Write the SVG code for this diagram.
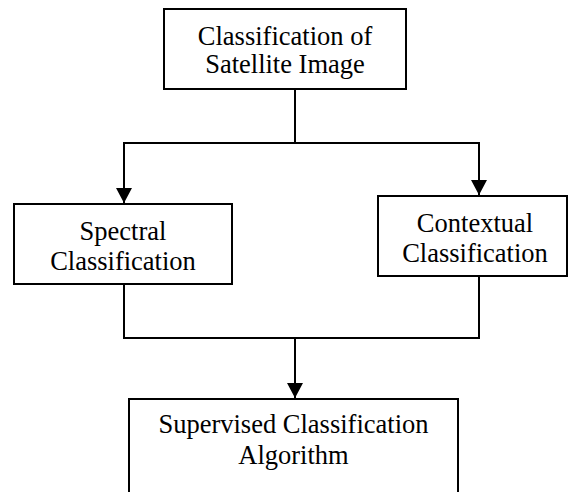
<svg xmlns="http://www.w3.org/2000/svg" width="569" height="492" viewBox="0 0 569 492">
<style>
.box{fill:#fff;stroke:#000;stroke-width:2}
.t{font-family:"Liberation Serif","Times New Roman",serif;font-size:26.5px;fill:#000;text-anchor:middle}
.c{fill:none;stroke:#000;stroke-width:2}
</style>
<defs>
<marker id="ah" markerWidth="16" markerHeight="15" refX="8" refY="15" orient="0" markerUnits="userSpaceOnUse">
<path d="M0,0 L16,0 L8,15 Z" fill="#000"/>
</marker>
</defs>
<rect width="569" height="492" fill="#fff"/>
<g id="connectors">
<polyline class="c" points="295,89 295,143 124,143 124,188"/>
<line class="c" x1="124" y1="143" x2="124" y2="203" marker-end="url(#ah)"/>
<polyline class="c" points="295,143 479,143 479,195" marker-end="url(#ah)"/>
<polyline class="c" points="124,284 124,338 479,338 479,276"/>
<line class="c" x1="295" y1="338" x2="295" y2="398" marker-end="url(#ah)"/>
</g>
<g id="top">
<rect class="box" x="164" y="9" width="242" height="80"/>
<text class="t" x="285" y="45">Classification of</text>
<text class="t" x="285" y="73">Satellite Image</text>
</g>
<g id="spectral">
<rect class="box" x="14" y="204" width="218" height="80"/>
<text class="t" x="123" y="240">Spectral</text>
<text class="t" x="123" y="270">Classification</text>
</g>
<g id="contextual">
<rect class="box" x="378" y="196" width="189" height="80"/>
<text class="t" x="475" y="232">Contextual</text>
<text class="t" x="475" y="262">Classification</text>
</g>
<g id="supervised">
<rect class="box" x="129" y="399" width="329" height="110"/>
<text class="t" x="293.5" y="433">Supervised Classification</text>
<text class="t" x="293.5" y="464">Algorithm</text>
</g>
</svg>
